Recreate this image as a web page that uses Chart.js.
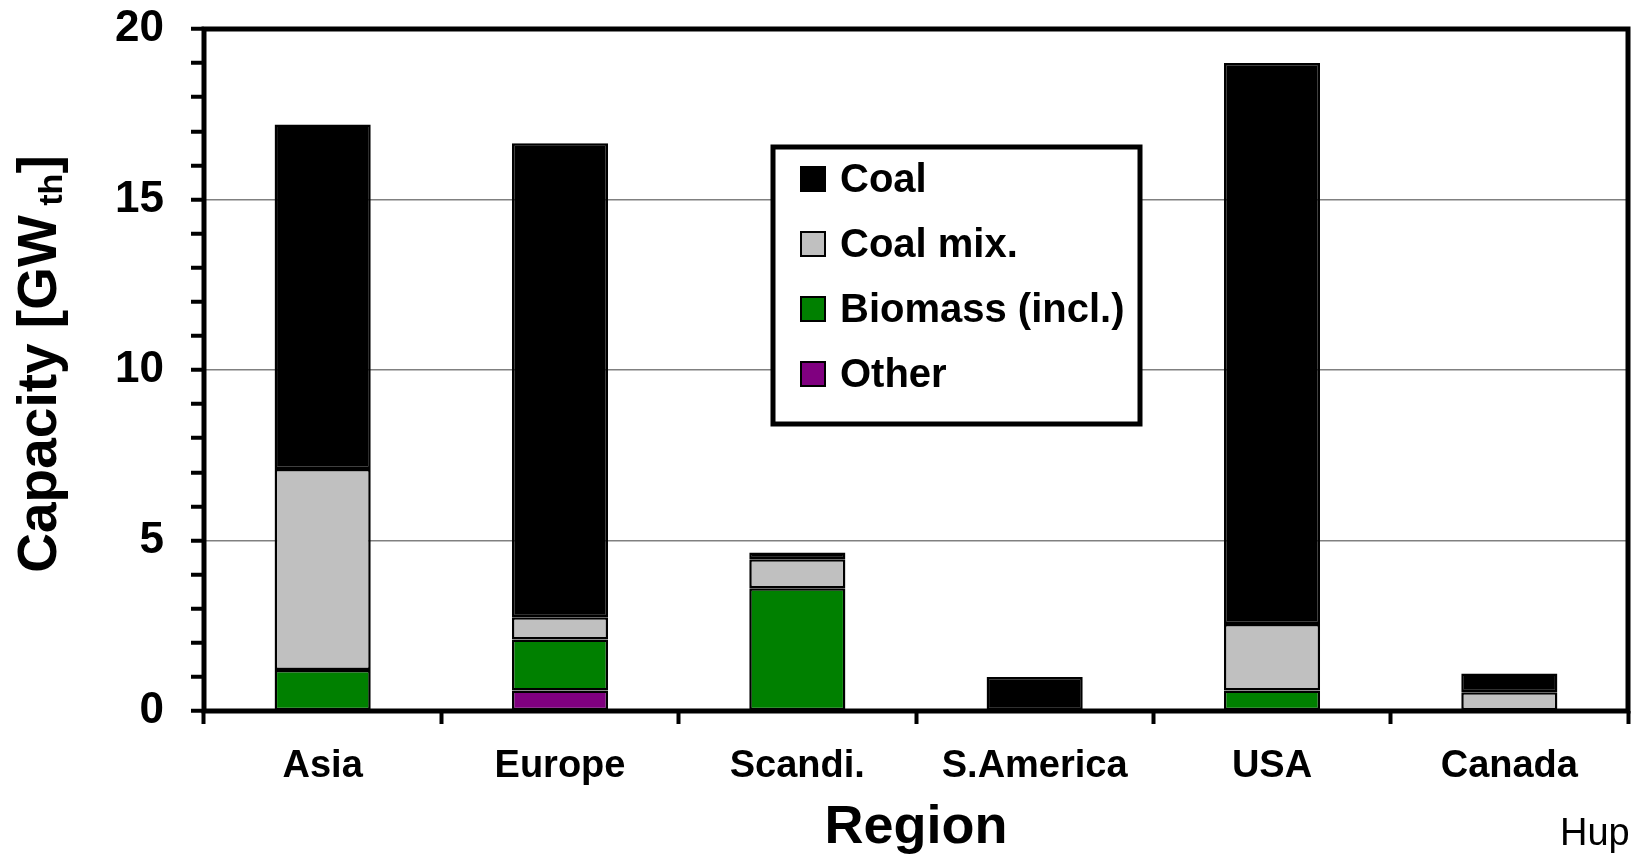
<!DOCTYPE html>
<html>
<head>
<meta charset="utf-8">
<script src="https://cdn.jsdelivr.net/npm/chart.js@4.4.1/dist/chart.umd.min.js"></script>
<style>
  html, body { margin: 0; padding: 0; background: #fff; }
  #wrap { width: 1631px; height: 858px; position: relative; }
</style>
</head>
<body>
<div id="wrap"><canvas id="barChart" width="1631" height="858"></canvas></div>
<script>
const regions = ["Asia", "Europe", "Scandi.", "S.America", "USA", "Canada"];
const otherValues = [null, 0.6, null, null, null, null];
const biomassValues = [1.2, 1.5, 3.6, null, 0.6, null];
const coalMixValues = [5.9, 0.65, 0.85, null, 1.95, 0.55];
const coalValues = [10.1, 13.9, 0.2, 1.0, 16.45, 0.55];
const yTicks = [0, 5, 10, 15, 20];

const FONT = '"Liberation Sans", Arial, sans-serif';

// frame round the plot area, drawn over the bars
const framePlugin = {
  id: "frame",
  afterDatasetsDraw(chart) {
    const { ctx, chartArea: a } = chart;
    ctx.save();
    ctx.strokeStyle = "#000";
    ctx.lineWidth = 5;
    ctx.strokeRect(a.left, a.top, a.right - a.left, a.bottom - a.top);
    ctx.restore();
  },
};

// legend box inside the plot, reverse order like the original
const boxLegend = {
  id: "boxLegend",
  afterDraw(chart) {
    const { ctx } = chart;
    const x = 773, y = 147, w = 367, h = 277;
    ctx.save();
    ctx.fillStyle = "#fff";
    ctx.fillRect(x, y, w, h);
    ctx.strokeStyle = "#000";
    ctx.lineWidth = 5;
    ctx.strokeRect(x, y, w, h);
    const sets = chart.data.datasets.slice().reverse();
    ctx.font = "bold 40px " + FONT;
    ctx.textBaseline = "middle";
    sets.forEach((ds, i) => {
      const cy = 179 + i * 65;
      ctx.fillStyle = ds.backgroundColor;
      ctx.fillRect(801, cy - 12, 24, 24);
      ctx.lineWidth = 2;
      ctx.strokeStyle = "#000";
      ctx.strokeRect(801, cy - 12, 24, 24);
      ctx.fillStyle = "#000";
      ctx.fillText(ds.label, 840, cy + 2);
    });
    ctx.restore();
  },
};

// y title with subscript, plus the clipped credit in the corner
const extraText = {
  id: "extraText",
  afterDraw(chart) {
    const { ctx } = chart;
    ctx.save();
    const main = "Capacity [GW";
    const sub = " th";
    const end = "]";
    ctx.font = "bold 55px " + FONT;
    const w1 = ctx.measureText(main).width;
    const w3 = ctx.measureText(end).width;
    ctx.font = "bold 34px " + FONT;
    const w2 = ctx.measureText(sub).width;
    const total = w1 + w2 + w3;
    ctx.translate(56, 364);
    ctx.rotate(-Math.PI / 2);
    ctx.fillStyle = "#000";
    ctx.textBaseline = "alphabetic";
    let px = -total / 2;
    ctx.font = "bold 55px " + FONT;
    ctx.fillText(main, px, 0);
    px += w1;
    ctx.font = "bold 34px " + FONT;
    ctx.fillText(sub, px, 6);
    px += w2;
    ctx.font = "bold 55px " + FONT;
    ctx.fillText(end, px, 0);
    ctx.restore();

    ctx.save();
    ctx.font = "38px " + FONT;
    ctx.fillStyle = "#000";
    ctx.textBaseline = "alphabetic";
    ctx.fillText("Hupa", 1560, 845);
    ctx.restore();
  },
};

document.addEventListener("DOMContentLoaded", () => {
  const ctx = document.getElementById("barChart").getContext("2d");

  const barStyle = {
    borderColor: "#000",
    borderWidth: 2.5,
    borderSkipped: false,
    categoryPercentage: 1.0,
    barPercentage: 0.405,
  };

  const chartData = {
    labels: regions,
    datasets: [
      { label: "Other", data: otherValues, backgroundColor: "#800080", ...barStyle },
      { label: "Biomass (incl.)", data: biomassValues, backgroundColor: "#008000", ...barStyle },
      { label: "Coal mix.", data: coalMixValues, backgroundColor: "#C0C0C0", ...barStyle },
      { label: "Coal", data: coalValues, backgroundColor: "#000000", ...barStyle },
    ],
  };

  const config = {
    type: "bar",
    data: chartData,
    options: {
      responsive: false,
      animation: false,
      layout: { padding: { left: 0, top: 29, right: 3, bottom: 0 } },
      plugins: {
        legend: { display: false },
        tooltip: { enabled: false },
      },
      scales: {
        x: {
          stacked: true,
          offset: true,
          afterFit: (scale) => {
            scale.height = 147;
            scale.paddingLeft = 0;
            scale.paddingRight = 0;
          },
          grid: {
            offset: true,
            drawOnChartArea: false,
            color: "#000",
            tickColor: "#000",
            tickLength: 13,
            tickWidth: 4,
          },
          border: { display: false },
          ticks: {
            color: "#000",
            font: { family: FONT, size: 38, weight: "bold" },
            padding: 20,
            maxRotation: 0,
            autoSkip: false,
          },
          title: {
            display: true,
            text: "Region",
            color: "#000",
            font: { family: FONT, size: 54, weight: "bold", lineHeight: 1.1 },
            padding: { top: 0, bottom: 0 },
          },
        },
        y: {
          stacked: true,
          min: 0,
          max: 20,
          afterFit: (scale) => {
            scale.width = 204;
            scale.paddingTop = 0;
            scale.paddingBottom = 0;
          },
          afterBuildTicks: (scale) => {
            const t = [];
            for (let v = 0; v <= 20; v++) t.push({ value: v });
            scale.ticks = t;
          },
          grid: {
            color: (c) => {
              const v = c.tick ? c.tick.value : 0;
              return v % 5 === 0 && v !== 0 && v !== 20 ? "#808080" : "rgba(0,0,0,0)";
            },
            lineWidth: 1.5,
            tickColor: "#000",
            tickLength: 13,
            tickWidth: 4,
          },
          border: { display: false },
          ticks: {
            color: "#000",
            autoSkip: false,
            padding: 27,
            font: { family: FONT, size: 44, weight: "bold" },
            callback: (v) => (yTicks.includes(v) ? String(v) : ""),
          },
          title: { display: false },
        },
      },
    },
    plugins: [framePlugin, boxLegend, extraText],
  };

  new Chart(ctx, config);
});
</script>
</body>
</html>
